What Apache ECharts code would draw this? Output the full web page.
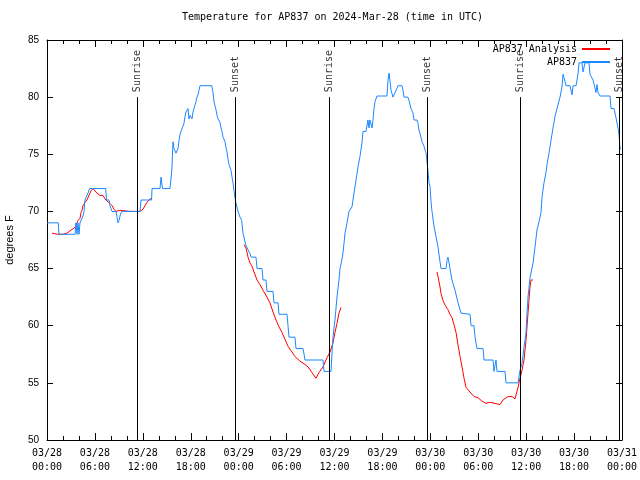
<!DOCTYPE html>
<html>
<head>
<meta charset="utf-8">
<script src="https://cdn.jsdelivr.net/npm/echarts@6/dist/echarts.min.js"></script>
<style>html,body{margin:0;padding:0;background:#fff}#c{width:640px;height:480px}</style>
</head>
<body>
<div id="c"></div>
<script>
// hours since 2024-03-28 00:00 UTC, degrees F
const tickLabels = ["03/28\n00:00","03/28\n06:00","03/28\n12:00","03/28\n18:00","03/29\n00:00","03/29\n06:00","03/29\n12:00","03/29\n18:00","03/30\n00:00","03/30\n06:00","03/30\n12:00","03/30\n18:00","03/31\n00:00"];
const sunTimes = [11.27, 23.54, 35.3, 47.58, 59.23, 71.63];
const sunLabels = ["Sunrise","Sunset","Sunrise","Sunset","Sunrise","Sunset"];

const obsTimes = [0.00,1.41,1.50,3.51,3.63,3.76,3.88,4.01,4.13,4.38,4.51,4.63,4.76,5.01,5.13,5.32,7.35,7.45,7.76,7.89,8.14,8.64,8.77,8.89,9.02,9.14,9.33,11.65,11.77,13.09,13.15,14.15,14.28,14.46,15.40,15.53,15.65,15.72,15.78,15.90,16.15,16.28,16.40,16.53,16.65,16.78,17.03,17.15,17.28,17.40,17.53,17.66,17.78,17.91,18.16,18.28,18.41,18.53,18.66,18.78,18.91,19.03,19.16,20.62,20.79,20.91,21.16,21.29,21.41,21.66,21.79,21.91,22.04,22.29,22.41,22.54,22.66,22.79,23.04,23.17,23.29,23.42,23.54,23.67,23.92,24.17,24.38,24.54,24.92,25.42,25.55,26.17,26.30,26.92,27.05,27.42,27.55,28.30,28.42,28.93,29.05,30.05,30.18,30.30,31.05,31.18,32.06,32.31,34.56,34.69,35.56,35.69,35.81,36.06,36.31,36.56,36.69,36.94,37.07,37.32,37.57,37.82,38.19,38.44,38.69,38.94,39.19,39.44,39.57,39.94,40.19,40.32,40.44,40.70,40.82,40.95,41.07,41.32,42.57,42.70,42.83,42.95,43.08,43.33,43.58,43.83,43.95,44.45,44.58,44.70,45.20,45.33,45.58,45.83,45.95,46.33,46.46,46.58,46.83,46.96,47.21,47.46,47.58,47.71,47.83,47.96,48.08,48.21,48.46,48.71,48.96,49.21,49.34,49.96,50.09,50.21,50.34,50.46,50.71,51.09,51.47,51.72,51.84,52.97,53.10,53.47,53.60,53.84,54.60,54.72,55.85,55.97,56.10,56.22,56.35,57.35,57.48,58.98,59.23,59.48,59.73,59.98,60.10,60.23,60.48,60.86,61.11,61.36,61.61,61.86,61.98,62.23,62.48,62.61,62.86,63.11,63.36,63.61,63.86,63.99,64.24,64.49,64.61,64.74,64.99,65.49,65.74,65.87,66.24,66.49,66.62,66.99,67.12,67.37,67.87,67.99,68.12,68.37,68.75,68.87,69.00,69.25,70.50,70.63,71.00,71.25,71.50,71.63,71.75,71.88];
const obsTemps = [69,69,68,68,69,68,69,68,69,69,69.6,70,71,71,71.6,72,72,71,71,70.5,70,70,69.5,69,69.2,69.6,70,70,71,71,72,72,73,72,72,72.9,73.8,75.2,76.1,75.5,75.1,75.1,75.5,76.2,76.7,77,77,77.7,78.3,78.7,78.7,79,78.1,78.4,78.1,78.7,79,79.3,79.6,80,80.2,80.6,81,81,80.4,79.6,78.9,78.4,78.1,77.8,77.3,77,76.5,76.1,75.6,75.2,74.6,74.1,73.6,73,72.5,71.8,71.2,70.7,70,69.5,69.2,68.1,67,66.3,66,66,65,65,64,64,63,63,62,62,61,61,60,59,59,58,58,57,57,56,56,57.6,59,60.5,62.5,64,65,65.8,66.4,68.1,69,70,70.4,71.6,72.7,73.9,74.8,76,77,77,78,77.3,78,77.3,78,79,79.6,80.1,80.1,81.5,82.1,81.4,80.6,80,80,80.8,81,81,80.6,80,80,79.7,79,78.6,78,78,77.7,77.1,76.5,76.1,75.7,75.1,74.4,73.5,72.5,72.2,70.9,70,68.7,67.8,66.9,65.6,65,65,65.7,66,65.5,65,64,63.1,62,62,61.1,61,60,60,59,58,58,57,57,56,56,57,56,56,55,55,56.1,56.7,58.1,59.4,61,62.5,64.2,65.5,66.9,68.4,69.1,69.9,71.2,72.5,73.4,74.1,75.1,76.2,77.3,78.3,79,79,80,80.9,82,81.7,81,81,80.2,81,81,82,83,83,82.2,83,83,82,81.9,81.5,80.4,81.1,80.4,80.1,80.1,79,79,78.2,77.3,76.7,75.5,75.5];

const anaTimes = [0.63,1.38,2.00,2.50,2.88,3.13,3.51,3.76,3.88,4.13,4.26,4.38,4.51,4.76,5.01,5.13,5.38,5.51,5.76,6.01,6.26,6.64,7.01,7.26,7.51,7.89,8.14,8.39,8.64,9.14,10.39,11.65,12.02,12.27,12.52,12.90,13.15,null,
  24.67,24.92,25.17,25.42,25.67,25.92,26.30,26.67,27.05,27.55,27.92,28.30,28.68,29.05,29.43,29.80,30.18,30.68,31.05,31.68,32.31,32.68,33.18,33.68,34.06,34.56,35.06,35.44,35.81,36.06,36.31,36.56,36.82,null,
  48.84,48.96,49.21,49.34,49.59,49.84,50.21,50.46,50.71,50.96,51.22,51.47,51.72,51.97,52.22,52.47,52.97,53.47,53.97,54.47,54.97,55.47,56.10,56.73,57.10,57.73,58.23,58.60,58.85,58.98,59.23,59.48,59.73,59.98,60.23,60.48,60.61,60.86];
const anaTemps = [68.1,68,68,68.1,68.3,68.3,68.6,69,69.2,69.4,69.9,70.1,70.5,70.8,71,71,71.6,71.8,72,71.9,71.6,71.4,71.4,71.1,70.9,70.7,70.5,70.2,70,70.1,70,70,70.2,70.5,70.8,71.1,71.1,null,
  67.1,66.8,66,65.5,65.2,64.7,64,63.6,63.1,62.5,62,61.2,60.5,59.9,59.4,58.8,58.2,57.7,57.3,56.9,56.6,56.4,55.9,55.4,55.9,56.4,57.2,57.7,58.5,59.4,60.2,61.1,61.6,null,
  64.7,64.3,63.4,62.8,62.2,61.8,61.4,61,60.7,60.1,59.4,58.3,57.3,56.4,55.4,54.6,54.2,53.8,53.7,53.4,53.2,53.3,53.2,53.1,53.5,53.8,53.8,53.6,53.6,54.6,55.4,56.1,57,58.7,61.1,63.4,64,64];

const MONO = '"DejaVu Sans Mono", "Liberation Mono", monospace';
const SANS = '"Liberation Sans", Arial, sans-serif';
const RED = '#ff0000';
const BLUE = '#1a88ff';

const obsData = obsTimes.map((t, i) => [t, obsTemps[i]]);
const anaData = anaTimes.map((t, i) => t === null ? [null, null] : [t, anaTemps[i]]);
const sunData = sunTimes.map((t, i) => ({ value: [t, 80], name: sunLabels[i] }));
const sunLines = sunTimes.map(t => [{ coord: [t, 80] }, { coord: [t, 50] }]);

const xCommon = {
  type: 'value', min: 0, max: 72, interval: 6,
  axisLine: { show: true, onZero: false, lineStyle: { color: '#000', width: 1 } },
  axisTick: { show: true, inside: true, length: 7, lineStyle: { color: '#000' } },
  minorTick: { show: true, splitNumber: 3, length: 4, lineStyle: { color: '#000' } },
  splitLine: { show: false }, minorSplitLine: { show: false }
};
const yCommon = {
  type: 'value', min: 50, max: 85, interval: 5,
  axisLine: { show: true, onZero: false, lineStyle: { color: '#000', width: 1 } },
  axisTick: { show: true, inside: true, length: 6, lineStyle: { color: '#000' } },
  splitLine: { show: false }
};
const legendText = { fontFamily: MONO, fontSize: 10, color: '#000' };

const chart = echarts.init(document.getElementById('c'), null, { renderer: 'canvas' });
chart.setOption({
  animation: false,
  backgroundColor: '#fff',
  title: {
    text: 'Temperature for AP837 on 2024-Mar-28 (time in UTC)',
    left: 182, top: 12, padding: 0,
    textStyle: { fontFamily: MONO, fontSize: 10, fontWeight: 'normal', color: '#000' }
  },
  grid: { left: 47, right: 18, top: 40, bottom: 40, containLabel: false, outerBoundsMode: 'none' },
  legend: [
    { data: [{ name: 'AP837 Analysis', icon: 'rect', itemStyle: { color: RED, opacity: 1 } }], right: 30, top: 44, orient: 'vertical', align: 'right',
      itemWidth: 28, itemHeight: 2, padding: 0, inactiveColor: RED, textStyle: legendText },
    { data: [{ name: 'AP837', icon: 'rect', itemStyle: { color: BLUE, opacity: 1 } }], right: 30, top: 57, orient: 'vertical', align: 'right',
      itemWidth: 28, itemHeight: 2, padding: 0, inactiveColor: BLUE, textStyle: legendText }
  ],
  xAxis: [
    Object.assign({}, xCommon, { position: 'bottom',
      axisLabel: { show: true, margin: 6, fontFamily: MONO, fontSize: 10, lineHeight: 14, color: '#000',
        formatter: v => tickLabels[Math.round(v / 6)] } }),
    Object.assign({}, xCommon, { position: 'top', axisLabel: { show: false } })
  ],
  yAxis: [
    Object.assign({}, yCommon, { position: 'left',
      name: 'degrees F', nameLocation: 'middle', nameGap: 32, nameRotate: 90,
      nameTextStyle: { fontFamily: SANS, fontSize: 11, color: '#000' },
      axisLabel: { show: true, margin: 8, fontFamily: SANS, fontSize: 10, color: '#000' } }),
    Object.assign({}, yCommon, { position: 'right', axisLabel: { show: false } })
  ],
  series: [
    { name: 'AP837 Analysis', type: 'line', data: anaData, symbol: 'none', connectNulls: false,
      color: RED, itemStyle: { color: RED }, lineStyle: { color: RED, width: 1 }, xAxisIndex: 0, yAxisIndex: 0, silent: true },
    { name: 'AP837', type: 'line', data: obsData, symbol: 'none',
      color: BLUE, itemStyle: { color: BLUE }, lineStyle: { color: BLUE, width: 1 }, xAxisIndex: 0, yAxisIndex: 0, silent: true },
    { name: 'sun', type: 'scatter', data: sunData, symbolSize: 0, silent: true,
      label: { show: true, formatter: '{b}', position: 'top', distance: 5, rotate: 90, align: 'left', verticalAlign: 'middle',
        fontFamily: MONO, fontSize: 10, color: '#000' },
      markLine: { silent: true, symbol: ['none', 'none'], label: { show: false },
        lineStyle: { color: '#000', width: 1, type: 'solid' }, data: sunLines } }
  ]
});
</script>
</body>
</html>
